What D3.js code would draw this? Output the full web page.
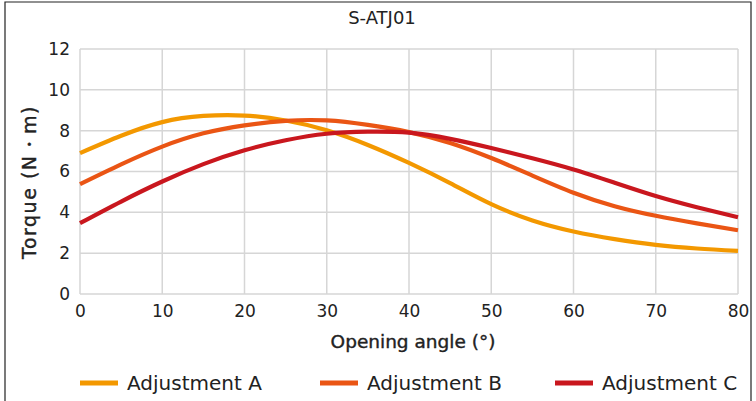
<html>
<head>
<meta charset="utf-8">
<title>S-ATJ01</title>
<style>
  body { margin: 0; background: #fff; }
  text { font-family: "DejaVu Sans", "Noto Sans", sans-serif; fill: #222; }
</style>
</head>
<body>
<script src="https://cdn.jsdelivr.net/npm/d3@7/dist/d3.min.js"></script>
<script>
var width = 756, height = 401;

// data, every 5 degrees
var angles = [0, 5, 10, 15, 20, 25, 30, 35, 40, 45, 50, 55, 60, 65, 70, 75, 80];
var adjA = [6.9, 7.75, 8.42, 8.72, 8.74, 8.5, 8.02, 7.3, 6.42, 5.43, 4.4, 3.6, 3.06, 2.69, 2.41, 2.23, 2.11];
var adjB = [5.38, 6.35, 7.22, 7.87, 8.26, 8.48, 8.5, 8.28, 7.93, 7.4, 6.66, 5.8, 4.96, 4.3, 3.83, 3.46, 3.12];
var adjC = [3.47, 4.53, 5.51, 6.36, 7.04, 7.53, 7.85, 7.95, 7.9, 7.6, 7.15, 6.65, 6.1, 5.45, 4.8, 4.25, 3.76];
var seriesNames = ["Adjustment A", "Adjustment B", "Adjustment C"];
var seriesColors = ["#f39800", "#ea5514", "#c9171e"];
var xTicks = [0, 10, 20, 30, 40, 50, 60, 70, 80];
var yTicks = [0, 2, 4, 6, 8, 10, 12];

var allSeries = [adjA, adjB, adjC];

var svg = d3.select("body").append("svg")
    .attr("width", width)
    .attr("height", height);

// outer frame
svg.append("path")
    .attr("d", "M5,401 V2 H751 V401")
    .attr("fill", "none")
    .attr("stroke", "#222")
    .attr("stroke-width", 1.2);

var x = d3.scaleLinear().domain([0, 80]).range([80, 738]);
var y = d3.scaleLinear().domain([0, 12]).range([294, 49]);

// grid
svg.append("g").selectAll("line")
    .data(yTicks).enter().append("line")
    .attr("x1", x(0)).attr("x2", x(80))
    .attr("y1", function(d) { return y(d); })
    .attr("y2", function(d) { return y(d); })
    .attr("stroke", "#d6d6d6").attr("stroke-width", 1.5);

svg.append("g").selectAll("line")
    .data(xTicks).enter().append("line")
    .attr("y1", y(0)).attr("y2", y(12))
    .attr("x1", function(d) { return x(d); })
    .attr("x2", function(d) { return x(d); })
    .attr("stroke", "#d6d6d6").attr("stroke-width", 1.5);

// axes (labels only)
var yAxis = d3.axisLeft(y).tickValues(yTicks).tickSize(0).tickPadding(10);
var gy = svg.append("g").attr("transform", "translate(" + x(0) + ",0)").call(yAxis);
gy.select(".domain").remove();
gy.selectAll("text").style("font-size", "17px").style("font-family", "DejaVu Sans").attr("fill", "#222");

var xAxis = d3.axisBottom(x).tickValues(xTicks).tickSize(0).tickPadding(11);
var gx = svg.append("g").attr("transform", "translate(0," + y(0) + ")").call(xAxis);
gx.select(".domain").remove();
gx.selectAll("text").style("font-size", "17px").style("font-family", "DejaVu Sans").attr("fill", "#222");

// lines
var line = d3.line()
    .x(function(d, i) { return x(angles[i]); })
    .y(function(d) { return y(d); })
    .curve(d3.curveNatural);

svg.append("g").selectAll("path")
    .data(allSeries).enter().append("path")
    .attr("d", function(d) { return line(d); })
    .attr("fill", "none")
    .attr("stroke", function(d, i) { return seriesColors[i]; })
    .attr("stroke-width", 4.2);

// titles
svg.append("text")
    .attr("x", 382).attr("y", 24)
    .attr("text-anchor", "middle")
    .style("font-size", "18px")
    .text("S-ATJ01");

svg.append("text")
    .attr("x", 413).attr("y", 348)
    .attr("text-anchor", "middle")
    .style("font-size", "18.5px")
    .attr("stroke", "#222").attr("stroke-width", 0.4)
    .text("Opening angle (°)");

svg.append("text")
    .attr("transform", "translate(36,182) rotate(-90)")
    .attr("text-anchor", "middle")
    .style("font-size", "19px")
    .style("letter-spacing", "1.5px")
    .attr("stroke", "#222").attr("stroke-width", 0.4)
    .text("Torque (N・m)");

// legend
var legendX = [80, 320, 555];
var lg = svg.append("g").selectAll("g")
    .data(seriesNames).enter().append("g")
    .attr("transform", function(d, i) { return "translate(" + legendX[i] + ",383)"; });
lg.append("line")
    .attr("x1", 0).attr("x2", 38).attr("y1", 0).attr("y2", 0)
    .attr("stroke", function(d, i) { return seriesColors[i]; })
    .attr("stroke-width", 5);
lg.append("text")
    .attr("x", 47).attr("y", 0).attr("dy", "0.35em")
    .style("font-size", "20px")
    .text(function(d) { return d; });
</script>
</body>
</html>
